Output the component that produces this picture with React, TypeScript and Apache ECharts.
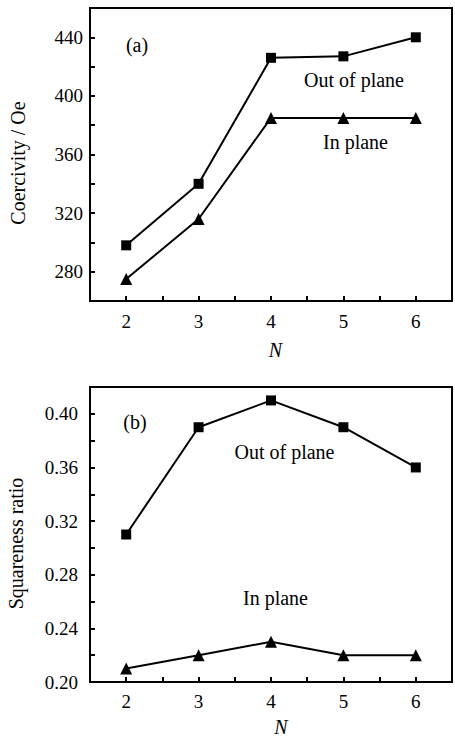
import React, { useEffect, useRef } from "react";
import * as echarts from "echarts";

const nValues = [2, 3, 4, 5, 6];
const coerOut = [298, 340, 426, 427, 440];
const coerIn = [275, 316, 385, 385, 385];
const sqOut = [0.31, 0.39, 0.41, 0.39, 0.36];
const sqIn = [0.21, 0.22, 0.23, 0.22, 0.22];
const coerTickLabels = [280, 320, 360, 400, 440];
const sqTickLabels = ["0.20", "0.24", "0.28", "0.32", "0.36", "0.40"];

const FONT = "Liberation Serif";

export default function App() {
  const ref = useRef<HTMLDivElement>(null);
  useEffect(() => {
    if (!ref.current) return;
    const chart = echarts.init(ref.current, null, { renderer: "svg" });
    const pairs = (ys: number[]) => nValues.map((n, i) => [n, ys[i]]);
    const xAxisBase = (gridIndex: number, margin: number) => ({
      type: "value" as const,
      gridIndex,
      min: 1.5,
      max: 6.5,
      interval: 0.5,
      axisLine: { show: true, onZero: false, lineStyle: { color: "#000", width: 2 } },
      axisTick: { show: true, inside: true, length: 5, lineStyle: { color: "#000", width: 2 } },
      axisLabel: {
        margin,
        fontFamily: FONT,
        fontSize: 19,
        color: "#000",
        formatter: (v: number) => (Number.isInteger(v) && nValues.includes(v) ? String(v) : ""),
      },
      splitLine: { show: false },
    });
    const lineSeries = (x: number, data: number[][], symbol: string, size: number) => ({
      type: "line" as const,
      xAxisIndex: x,
      yAxisIndex: x,
      data,
      symbol,
      symbolSize: size,
      showSymbol: true,
      lineStyle: { color: "#000", width: 2 },
      itemStyle: { color: "#000" },
      z: 3,
    });
    const txt = (text: string, x: number, y: number, extra: any = {}) => ({
      type: "text",
      x,
      y,
      rotation: extra.rotation || 0,
      style: {
        text,
        fill: "#000",
        fontFamily: FONT,
        fontSize: extra.size || 20,
        fontStyle: extra.italic ? "italic" : "normal",
        align: "center",
        verticalAlign: "middle",
      },
    });
    chart.setOption({
      animation: false,
      backgroundColor: "#fff",
      textStyle: { fontFamily: FONT },
      grid: [
        { left: 90, top: 8, width: 367.5, height: 293, show: true, borderColor: "#000", borderWidth: 2 },
        { left: 90, top: 387, width: 367.5, height: 295, show: true, borderColor: "#000", borderWidth: 2 },
      ],
      xAxis: [xAxisBase(0, 11), xAxisBase(1, 10)],
      yAxis: [
        {
          type: "value",
          gridIndex: 0,
          min: 260,
          max: 460,
          interval: 20,
          axisLine: { show: true, lineStyle: { color: "#000", width: 2 } },
          axisTick: { show: true, inside: true, length: 5, lineStyle: { color: "#000", width: 2 } },
          axisLabel: {
            margin: 7,
            fontFamily: FONT,
            fontSize: 19,
            color: "#000",
            formatter: (v: number) => (coerTickLabels.includes(v) ? String(v) : ""),
          },
          splitLine: { show: false },
        },
        {
          type: "value",
          gridIndex: 1,
          min: 0.2,
          max: 0.42,
          interval: 0.02,
          axisLine: { show: true, lineStyle: { color: "#000", width: 2 } },
          axisTick: { show: true, inside: true, length: 5, lineStyle: { color: "#000", width: 2 } },
          axisLabel: {
            margin: 12,
            fontFamily: FONT,
            fontSize: 19,
            color: "#000",
            formatter: (v: number) => {
              const s = v.toFixed(2);
              return sqTickLabels.includes(s) ? s : "";
            },
          },
          splitLine: { show: false },
        },
      ],
      series: [
        lineSeries(0, pairs(coerOut), "rect", 10),
        lineSeries(0, pairs(coerIn), "triangle", 12),
        lineSeries(1, pairs(sqOut), "rect", 10),
        lineSeries(1, pairs(sqIn), "triangle", 12),
      ],
      graphic: [
        txt("(a)", 137, 45),
        txt("Out of plane", 354, 80),
        txt("In plane", 355.5, 142),
        txt("(b)", 135, 422),
        txt("Out of plane", 284.5, 452),
        txt("In plane", 275.5, 598),
        txt("Coercivity / Oe", 17.5, 163, { rotation: Math.PI / 2 }),
        txt("Squareness ratio", 16, 543.5, { rotation: Math.PI / 2 }),
        txt("N", 275.5, 350, { italic: true }),
        txt("N", 281, 727, { italic: true }),
      ],
    });
    return () => chart.dispose();
  }, []);
  return (
    <div
      ref={ref}
      style={{ position: "fixed", left: 0, top: 0, width: 455, height: 746, background: "#fff" }}
    />
  );
}
